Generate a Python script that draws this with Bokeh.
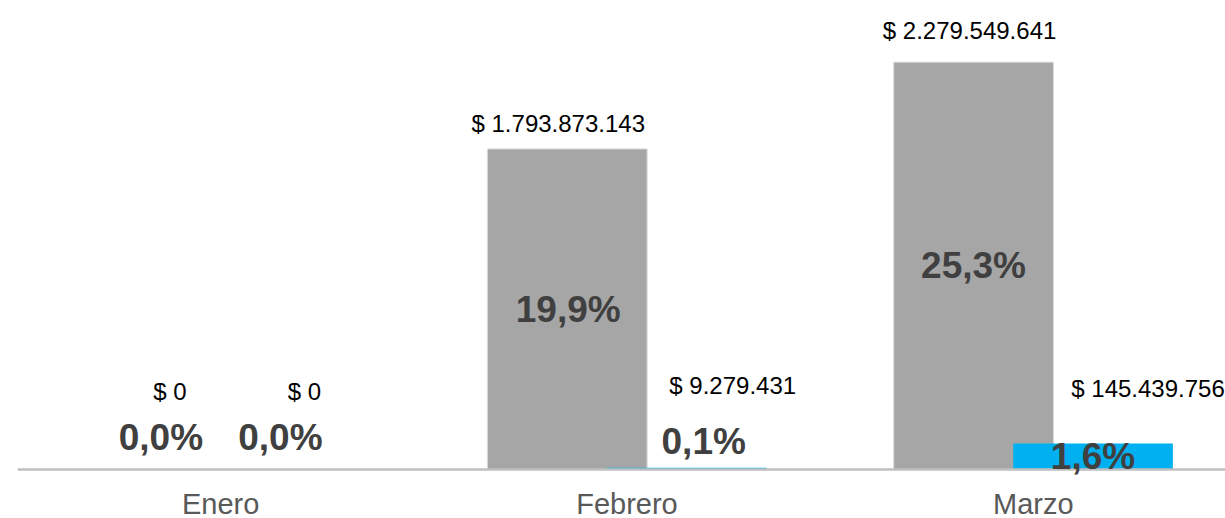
from bokeh.plotting import figure
from bokeh.models import Range1d, FixedTicker, ColumnDataSource, LabelSet, Span
from bokeh.embed import file_html
from bokeh.resources import INLINE
from bokeh.core.properties import value

# ---- data ----
meses = ["Enero", "Febrero", "Marzo"]
monto_gris = [0, 1793873143, 2279549641]
monto_azul = [0, 9279431, 145439756]
pct_gris = [0.0, 19.9, 25.3]
pct_azul = [0.0, 0.1, 1.6]

# ---- layout ----
FRAME_W = 1208
PLOT_H = 461                       # pixels from top of frame to the baseline
BELOW = 7                          # extra frame pixels below the baseline
X0, X1 = -0.5, 2.473
Y1 = 2.58e9
PPX = FRAME_W / (X1 - X0)          # pixels per category unit
UPP = Y1 / PLOT_H                  # data units per pixel (y)
Y0 = -BELOW * UPP
OFF = 0.147                        # bar offset from category centre
BW = 0.393                         # bar width

FONT = value("Liberation Sans")


def fmt_money(v):
    return "$ " + f"{v:,}".replace(",", ".")


def fmt_pct(v):
    return f"{v:.1f}%".replace(".", ",")


# label placement tweaks (pixels): horizontal shift, height above bar top
val_gris_dx = [9, -9, -4]
val_gris_dy = [78, 25, 32]
val_azul_dx = [24, 46, 55]
val_azul_dy = [78, 82, 55]
pct_gris_dx = [0, 1, 0]
pct_azul_dx = [0, 17, 0]
# pct labels: None -> centred in the bar, otherwise height above baseline (px)
pct_gris_h = [32, None, None]
pct_azul_h = [32, 28, None]

xs = list(range(len(meses)))
x_gris = [i - OFF for i in xs]
x_azul = [i + OFF for i in xs]

p = figure(frame_width=FRAME_W, frame_height=PLOT_H + BELOW,
           x_range=Range1d(X0, X1), y_range=Range1d(Y0, Y1),
           output_backend="svg", toolbar_location=None,
           y_axis_location=None,
           min_border_left=17, min_border_right=0,
           min_border_top=8, min_border_bottom=0)
p.outline_line_color = None
p.xgrid.visible = False
p.ygrid.visible = False
p.background_fill_color = "white"
p.border_fill_color = "white"

p.vbar(x=x_gris, top=monto_gris, bottom=0, width=BW,
       fill_color="#A6A6A6", line_color="#D9D9D9", line_width=1)
p.vbar(x=x_azul, top=monto_azul, bottom=0, width=BW,
       fill_color="#00B0F0", line_color=None)

# baseline (category axis line)
p.add_layout(Span(location=0, dimension="width", line_color="#BFBFBF",
                  line_width=2.5))

# value labels
vx, vy, vt = [], [], []
for i in xs:
    vx.append(x_gris[i] + val_gris_dx[i] / PPX)
    vy.append(monto_gris[i] + val_gris_dy[i] * UPP)
    vt.append(fmt_money(monto_gris[i]))
    vx.append(x_azul[i] + val_azul_dx[i] / PPX)
    vy.append(monto_azul[i] + val_azul_dy[i] * UPP)
    vt.append(fmt_money(monto_azul[i]))
src_v = ColumnDataSource(dict(x=vx, y=vy, t=vt))
p.add_layout(LabelSet(x="x", y="y", text="t", source=src_v,
                      text_font=FONT, text_font_size="24px",
                      text_color="#000000", text_align="center",
                      text_baseline="middle"))

# percentage labels
px_, py_, pt_ = [], [], []
for i in xs:
    px_.append(x_gris[i] + pct_gris_dx[i] / PPX)
    py_.append(monto_gris[i] / 2 if pct_gris_h[i] is None else pct_gris_h[i] * UPP)
    pt_.append(fmt_pct(pct_gris[i]))
    px_.append(x_azul[i] + pct_azul_dx[i] / PPX)
    py_.append(monto_azul[i] / 2 if pct_azul_h[i] is None else pct_azul_h[i] * UPP)
    pt_.append(fmt_pct(pct_azul[i]))
src_p = ColumnDataSource(dict(x=px_, y=py_, t=pt_))
p.add_layout(LabelSet(x="x", y="y", text="t", source=src_p,
                      text_font=FONT, text_font_size="37px",
                      text_font_style="bold", text_color="#404040",
                      text_align="center", text_baseline="middle"))

ax = p.xaxis[0]
ax.ticker = FixedTicker(ticks=xs)
ax.major_label_overrides = {i: m for i, m in zip(xs, meses)}
ax.major_tick_line_color = None
ax.minor_tick_line_color = None
ax.axis_line_color = None
ax.major_label_text_font = "Liberation Sans"
ax.major_label_text_font_size = "29px"
ax.major_label_text_color = "#595959"
ax.major_label_standoff = 5

open("out.html", "w").write(file_html(p, INLINE))
